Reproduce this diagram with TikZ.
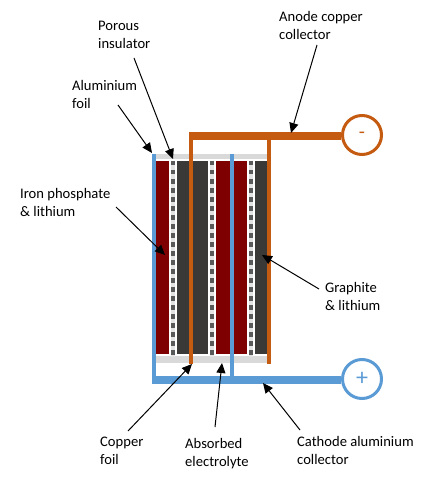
\documentclass[tikz,border=0pt]{standalone}
\usepackage{fontspec}
\setmainfont{Carlito}
\usetikzlibrary{arrows.meta}
\definecolor{cu}{HTML}{C55A11}
\definecolor{al}{HTML}{5B9BD5}
\definecolor{fe}{HTML}{7F0000}
\definecolor{gr}{HTML}{3B3838}
\definecolor{band}{HTML}{D9D9D9}
\definecolor{pore}{HTML}{595959}
\definecolor{porebg}{HTML}{E3E3E3}
\tikzset{
 lbl/.style={anchor=west,align=left,inner sep=0pt,font=\fontsize{14.6}{18}\selectfont,text=black},
 lead/.style={draw=black,line width=1pt,-{Triangle[length=10pt,width=9pt]}},
 term/.style={circle,draw=#1,line width=3pt,fill=white,minimum size=39pt,inner sep=0pt,text=#1},
 pstrip/.style={pore,line width=4pt,dash pattern=on 4.5pt off 4.5pt},
 pbg/.style={porebg,line width=4pt},
}
\begin{document}
\begin{tikzpicture}[x=1pt,y=-1pt]
\useasboundingbox (0,0) rectangle (429,486);
\fill[white] (0,0) rectangle (429,486);
% bands
\fill[band] (156,154) rectangle (267,159.5);
\fill[band] (156,356) rectangle (267,363);
% active layers
\foreach \a/\b in {156/169,216/230,234/247} \fill[fe] (\a,161) rectangle (\b,354);
\foreach \a/\b in {177/189,193/208,255/267} \fill[gr] (\a,161) rectangle (\b,354);
% porous insulators
\foreach \x in {173,212,251}{
 \draw[pbg] (\x,161) -- (\x,357);
 \draw[pstrip] (\x,161) -- (\x,357);
}
% terminals
\node[term=cu] (neg) at (362,135) {\fontsize{20}{20}\selectfont\raisebox{-3pt}{-}};
\node[term=al] (pos) at (362,379) {\fontsize{24}{24}\selectfont +};
% aluminium wires
\coordinate (alA) at (154,154);
\coordinate (alB) at (232,154);
\coordinate (alC) at (154,380);
\coordinate (alD) at (232,380);
\coordinate (alS) at (152,380);
\coordinate (alE) at (pos.west |- alS);
\draw[al,line width=4pt] (alB) -- (alD);
\draw[al,line width=4pt] (alA) -- (alC);
\draw[al,line width=8pt] (alS) -- (alE);
% copper wires
\coordinate (cuA) at (191,136);
\coordinate (cuB) at (269,136);
\coordinate (cuC) at (191,364);
\coordinate (cuD) at (269,364);
\coordinate (cuS) at (189,136);
\coordinate (cuE) at (neg.west |- cuS);
\draw[cu,line width=4pt] (cuA) -- (cuC);
\draw[cu,line width=4pt] (cuB) -- (cuD);
\draw[cu,line width=8pt] (cuS) -- (cuE);
% labels
\node[lbl] (anode) at (279,25) {Anode copper\\collector};
\node[lbl] (porous) at (98,35) {Porous\\insulator};
\node[lbl] (alfoil) at (72,94) {Aluminium\\foil};
\node[lbl] (iron) at (20,202) {Iron phosphate\\\& lithium};
\node[lbl] (graph) at (325,296) {Graphite\\\& lithium};
\node[lbl] (cufoil) at (100,451) {Copper\\foil};
\node[lbl] (elec) at (185,454) {Absorbed\\electrolyte};
\node[lbl] (cath) at (297,450) {Cathode aluminium\\collector};
% targets
\coordinate (tA) at (291,133);
\coordinate (tP) at (173,159);
\coordinate (tF) at (152,153);
\coordinate (tI) at (165,255);
\coordinate (tG) at (262,255);
\coordinate (tC) at (192,364);
\coordinate (tE) at (222,363);
\coordinate (tK) at (263,383);
\coordinate (sA) at (317,45);
\coordinate (sP) at (134,58);
\coordinate (sF) at (118,105);
\coordinate (sI) at (116,207);
\coordinate (sG) at (319,289);
\coordinate (sC) at (128,431);
\coordinate (sE) at (215,427);
\coordinate (sK) at (300,430);
\foreach \s/\t in {sA/tA,sP/tP,sF/tF,sI/tI,sG/tG,sC/tC,sE/tE,sK/tK}
 \draw[lead] (\s) -- (\t);
\end{tikzpicture}
\end{document}
